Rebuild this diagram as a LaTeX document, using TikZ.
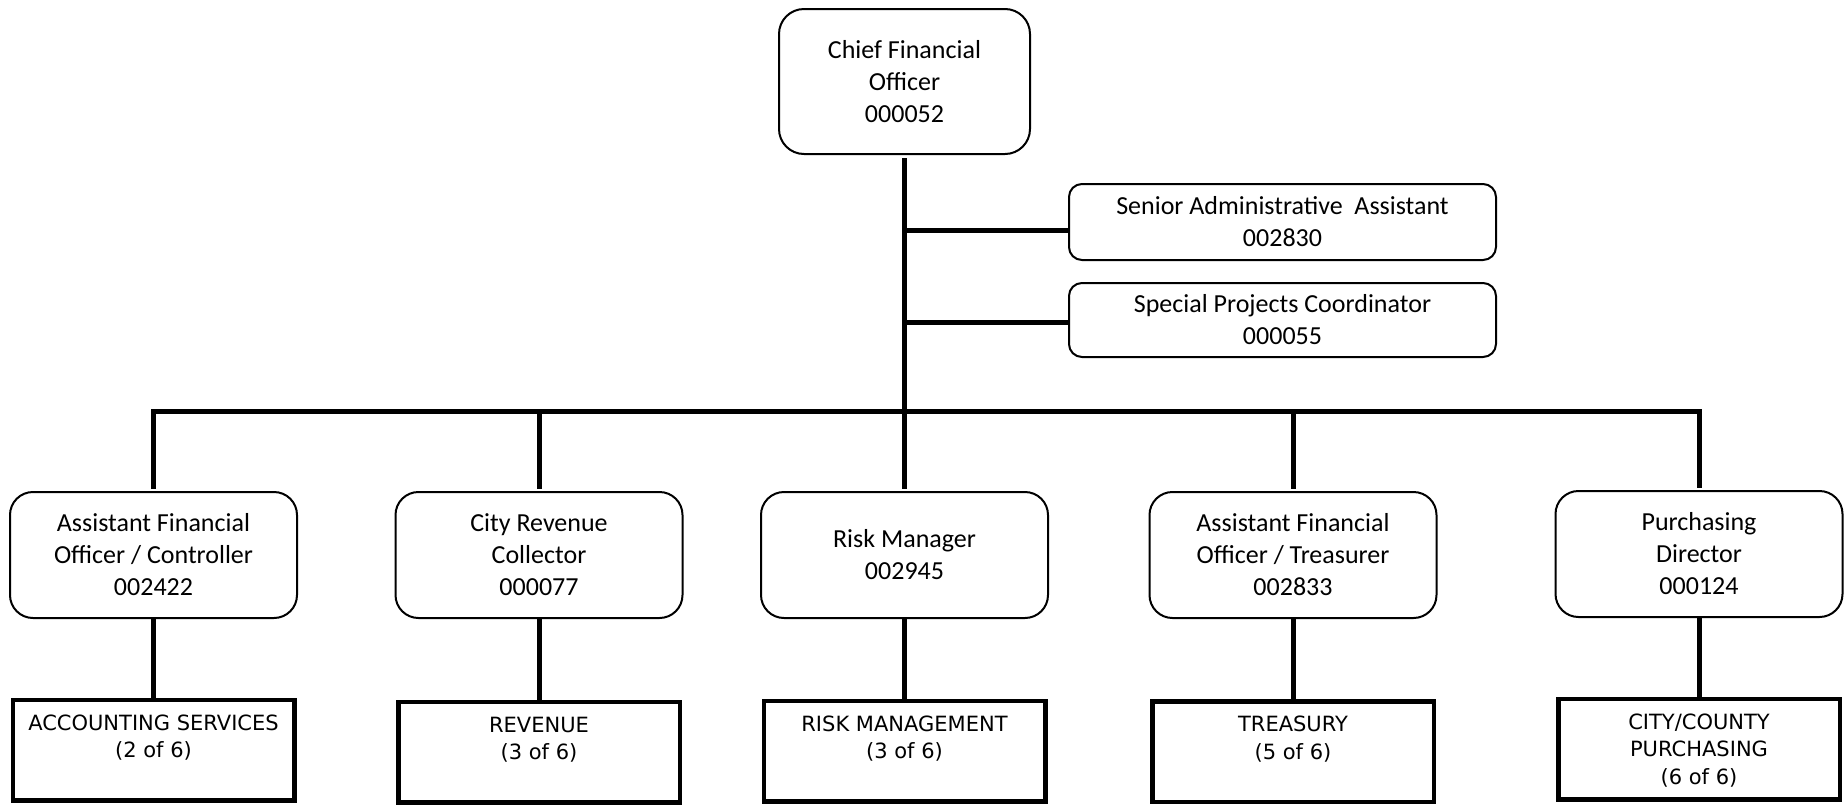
\documentclass[tikz,border=0pt]{standalone}
\usepackage{fontspec}
\setmainfont{Carlito}
\newfontfamily\deptfont{DejaVu Sans}

\newcommand{\depttext}[1]{\parbox[c][50pt][t]{140pt}{\centering\deptfont\fontsize{10.5}{13.8}\selectfont\rule{0pt}{15pt}#1}}

\begin{document}
\begin{tikzpicture}[x=0.5pt,y=-0.5pt,
  link/.style={line width=2.5pt},
  post/.style={draw,line width=1pt,rounded corners=11.5pt,align=center,inner sep=0pt,
    font=\fontsize{13}{16}\selectfont,minimum width=143.5pt,minimum height=63pt},
  aide/.style={post,rounded corners=6.5pt,minimum width=213.5pt,minimum height=38pt},
  dept/.style={draw,line width=2.25pt,inner sep=0pt,minimum width=140.75pt,minimum height=50.25pt}]

\useasboundingbox (0,0) rectangle (1847,804);

% top of the chart
\node[post,rounded corners=12.5pt,minimum width=125.5pt,minimum height=72.5pt] (cfo) at (904.5,81.5) {Chief Financial\\Officer\\000052};
\node[aide] (senior) at (1282.5,222) {Senior Administrative\ \ Assistant\\002830};
\node[aide,minimum height=37pt] (special) at (1282.5,320) {Special Projects Coordinator\\000055};

% second level
\node[post] (ctrl) at (153.5,555) {Assistant Financial\\Officer / Controller\\002422};
\node[post] (revc) at (539,555) {City Revenue\\Collector\\000077};
\node[post] (risk) at (904.5,555) {Risk Manager\\002945};
\node[post] (treas) at (1293,555) {Assistant Financial\\Officer / Treasurer\\002833};
\node[post] (purch) at (1699,554) {Purchasing\\Director\\000124};

% divisions
\node[dept] (acct) at (153.5,750.25) {\depttext{ACCOUNTING SERVICES\\(2 of 6)}};
\node[dept] (rev) at (539,752) {\depttext{REVENUE\\(3 of 6)}};
\node[dept] (riskm) at (904.5,751) {\depttext{RISK MANAGEMENT\\(3 of 6)}};
\node[dept] (trsy) at (1293,751.5) {\depttext{TREASURY\\(5 of 6)}};
\node[dept] (ccp) at (1699,749) {\depttext{CITY/COUNTY\\PURCHASING\\(6 of 6)}};

% lines
\coordinate (bus) at (904.5,411.5);
\coordinate (sj) at ([yshift=-4pt]senior.west);
\coordinate (pj) at ([yshift=-1pt]special.west);

\draw[link,shorten <=1.5pt,shorten >=1pt] (cfo.south) -- (risk.north);
\draw[link] (sj) -- (sj -| cfo.south);
\draw[link] (pj) -- (pj -| cfo.south);
\draw[link,shorten <=1pt,shorten >=1pt] (ctrl.north) -- (ctrl.north |- bus) -- (purch.north |- bus) -- (purch.north);
\draw[link,shorten >=1pt] (revc.north |- bus) -- (revc.north);
\draw[link,shorten >=1pt] (treas.north |- bus) -- (treas.north);

\draw[link] (ctrl.south) -- (acct.north);
\draw[link] (revc.south) -- (rev.north);
\draw[link] (risk.south) -- (riskm.north);
\draw[link] (treas.south) -- (trsy.north);
\draw[link] (purch.south) -- (ccp.north);

\end{tikzpicture}
\end{document}
